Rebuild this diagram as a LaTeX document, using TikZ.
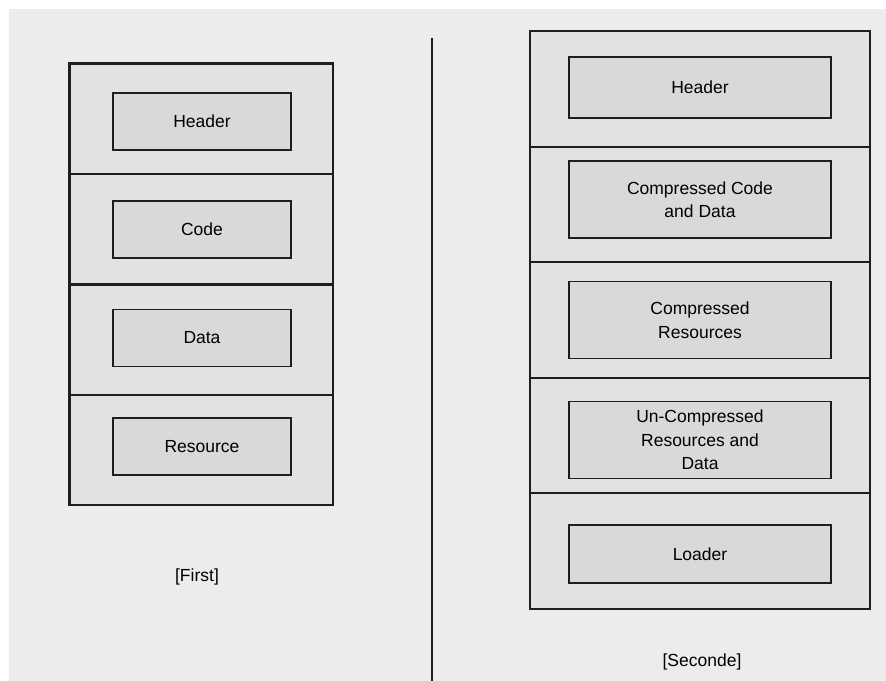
\documentclass[tikz,border=0pt]{standalone}
\usepackage{fontspec}
\setmainfont{Liberation Sans}
\definecolor{bgc}{HTML}{ECECEE}
\definecolor{outerc}{HTML}{E2E2E3}
\definecolor{innerc}{HTML}{D9D9D9}
\definecolor{strokec}{HTML}{1E1E1E}
\begin{document}
\begin{tikzpicture}[x=1bp,y=-1bp,
  outerbox/.style={draw=strokec,fill=outerc,line width=2.8bp},
  sep/.style={draw=strokec,line width=2.8bp},
  innerbox/.style={draw=strokec,fill=innerc,line width=1.7bp,
    font=\fontsize{17.5bp}{23.5bp}\selectfont,align=center,inner sep=0pt},
  lbl/.style={font=\fontsize{17.5bp}{23.5bp}\selectfont,inner sep=0pt}]
\useasboundingbox (0,0) rectangle (886,681);
\fill[white] (0,0) rectangle (886,681);
\fill[bgc] (9,9) rectangle (886,681);
% divider
\coordinate (dtop) at (432,38);
\coordinate (dbot) at (432,681);
\draw[strokec,line width=2bp] (dtop) -- (dbot);
% left stack
\draw[outerbox] (69.5,63.5) rectangle (333,505);
\draw[sep] (69.5,174) -- (333,174);
\draw[sep] (69.5,284.5) -- (333,284.5);
\draw[sep] (69.5,395) -- (333,395);
\node[innerbox,minimum width=178bp,minimum height=57bp] (lh) at (202,121.5) {Header};
\node[innerbox,minimum width=178bp,minimum height=57bp] (lc) at (202,229.5) {Code};
\node[innerbox,minimum width=178bp,minimum height=57bp] (ld) at (202,338) {Data};
\node[innerbox,minimum width=178bp,minimum height=57bp] (lr) at (202,446.5) {Resource};
\node[lbl] (first) at (197,577) {[First]};
% right stack
\draw[outerbox] (530,31) rectangle (870,609);
\draw[sep] (530,147) -- (870,147);
\draw[sep] (530,262) -- (870,262);
\draw[sep] (530,378) -- (870,378);
\draw[sep] (530,493) -- (870,493);
\node[innerbox,minimum width=262bp,minimum height=61bp] (rh) at (700,87.5) {Header};
\node[innerbox,minimum width=262bp,minimum height=77bp] (rc) at (700,199.5) {Compressed Code\\and Data};
\node[innerbox,minimum width=262bp,minimum height=77bp] (rr) at (700,320) {Compressed\\Resources};
\node[innerbox,minimum width=262bp,minimum height=77bp] (ru) at (700,440) {Un-Compressed\\Resources and\\Data};
\node[innerbox,minimum width=262bp,minimum height=58bp] (rl) at (700,554) {Loader};
\node[lbl] (second) at (702,662) {[Seconde]};
\end{tikzpicture}
\end{document}
